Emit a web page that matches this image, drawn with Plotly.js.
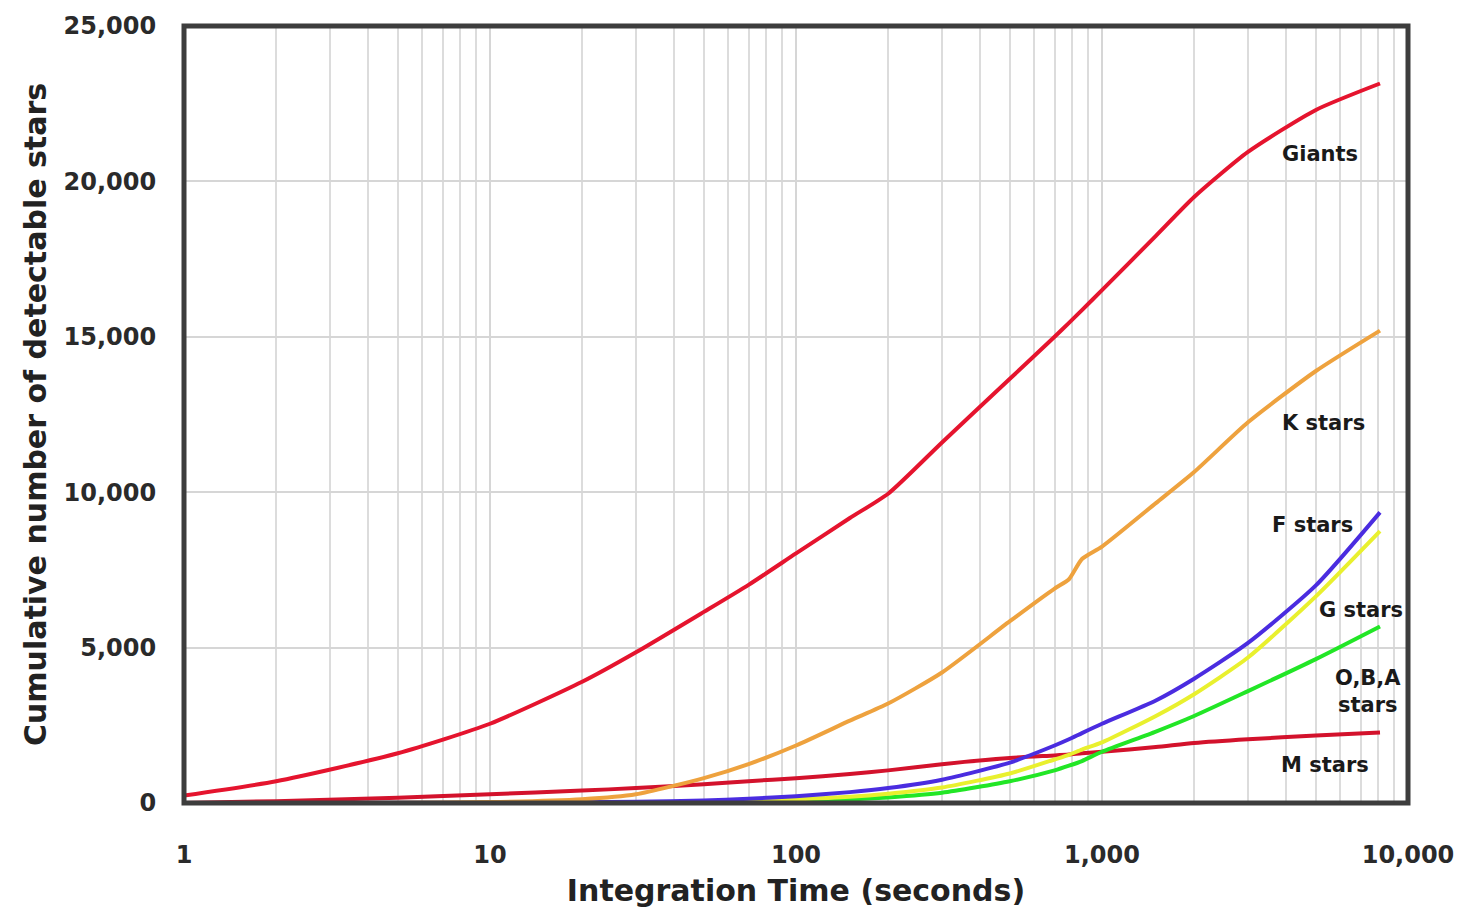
<!DOCTYPE html>
<html>
<head>
<meta charset="utf-8">
<script src="https://cdn.plot.ly/plotly-3.0.1.min.js"></script>
<style>
  html, body { margin: 0; padding: 0; background: #ffffff; }
  #chart { width: 1459px; height: 911px; }
</style>
</head>
<body>
<div id="chart"></div>
<script>
// Integration time in seconds (log axis)
const timeSec = [1, 2, 5, 10, 20, 30, 50, 70, 100, 150, 200, 300, 500, 700, 780, 860, 1000, 1500, 2000, 3000, 5000, 8100];

// Cumulative number of detectable stars per class
const giants = [240, 700, 1600, 2550, 3900, 4850, 6150, 7020, 8030, 9170, 9950, 11600, 13650, 15000, 15450, 15860, 16500, 18250, 19500, 20950, 22300, 23150];
const kStars = [0, 0, 10, 30, 120, 280, 800, 1250, 1850, 2650, 3200, 4200, 5850, 6900, 7200, 7850, 8250, 9650, 10650, 12250, 13900, 15200];
const fStars = [0, 0, 5, 10, 25, 40, 80, 140, 220, 350, 480, 750, 1300, 1850, 2050, 2250, 2550, 3300, 4000, 5150, 7000, 9350];
const gStars = [0, 0, 2, 5, 12, 20, 40, 75, 120, 200, 300, 500, 950, 1400, 1550, 1720, 1950, 2800, 3500, 4680, 6650, 8750];
const obaStars = [0, 0, 0, 0, 5, 10, 20, 35, 60, 110, 180, 330, 700, 1050, 1200, 1350, 1650, 2300, 2800, 3600, 4630, 5680];
const mStars = [0, 60, 170, 280, 400, 480, 600, 700, 800, 930, 1050, 1250, 1450, 1530, 1560, 1600, 1650, 1800, 1930, 2050, 2170, 2270];

// Axis tick labels
const xTickVals = [1, 10, 100, 1000, 10000];
const xTickText = ['1', '10', '100', '1,000', '10,000'];
const yTickVals = [0, 5000, 10000, 15000, 20000, 25000];

// Curve labels drawn at the right end of each series
const seriesNames = ['Giants', 'K stars', 'F stars', 'G stars', 'O,B,A<br>stars', 'M stars'];

const seriesList = [
  { y: mStars, color: '#d3122c' },
  { y: obaStars, color: '#22e626' },
  { y: gStars, color: '#e9f02e' },
  { y: fStars, color: '#4a2ce0' },
  { y: kStars, color: '#eea23e' },
  { y: giants, color: '#e5142e' }
];

const traces = seriesList.map(s => ({
  x: timeSec,
  y: s.y,
  type: 'scatter',
  mode: 'lines',
  line: { color: s.color, width: 4, shape: 'spline', smoothing: 0.6 },
  hoverinfo: 'x+y',
  showlegend: false
}));

const fontFamily = 'DejaVu Sans, Arial, sans-serif';
const labelFont = { family: fontFamily, size: 21, color: '#1a1a1a', weight: 'bold' };
const labelPos = [
  [0.928, 0.835], [0.931, 0.489], [0.922, 0.358], [0.962, 0.248], [0.967, 0.143], [0.932, 0.049]
];
const annotations = seriesNames.map((name, i) => ({
  xref: 'paper', yref: 'paper',
  x: labelPos[i][0], y: labelPos[i][1],
  xanchor: 'center', yanchor: 'middle',
  text: name,
  showarrow: false,
  font: labelFont,
  align: 'center'
}));

const axisFont = { family: fontFamily, size: 24, color: '#2a2a2a', weight: 'bold' };
const titleFont = { family: fontFamily, size: 30, color: '#222222', weight: 'bold' };

const layout = {
  width: 1459,
  height: 911,
  margin: { l: 184, r: 51, t: 26, b: 108, pad: 0 },
  paper_bgcolor: '#ffffff',
  plot_bgcolor: '#ffffff',
  xaxis: {
    type: 'log',
    range: [0, 4],
    tickvals: xTickVals,
    ticktext: xTickText,
    ticks: 'outside',
    ticklen: 30,
    tickcolor: 'rgba(0,0,0,0)',
    tickfont: axisFont,
    showgrid: true,
    gridcolor: '#d6d6d6',
    gridwidth: 2,
    minor: { dtick: 'D1', showgrid: true, gridcolor: '#dcdcdc', gridwidth: 2, ticks: '' },
    zeroline: false,
    showline: false,
    title: { text: 'Integration Time (seconds)', font: titleFont, standoff: 12 }
  },
  yaxis: {
    range: [0, 25000],
    tickvals: yTickVals,
    tickformat: ',d',
    ticks: 'outside',
    ticklen: 22,
    tickcolor: 'rgba(0,0,0,0)',
    tickfont: axisFont,
    showgrid: true,
    gridcolor: '#d6d6d6',
    gridwidth: 2,
    zeroline: false,
    showline: false,
    title: { text: 'Cumulative number of detectable stars', font: titleFont, standoff: 8 }
  },
  shapes: [{
    type: 'rect', xref: 'paper', yref: 'paper',
    x0: 0, x1: 1, y0: 0, y1: 1,
    line: { color: '#3d3d3d', width: 5 },
    layer: 'above'
  }],
  annotations: annotations
};

Plotly.newPlot('chart', traces, layout, { staticPlot: true, displayModeBar: false });
</script>
</body>
</html>
